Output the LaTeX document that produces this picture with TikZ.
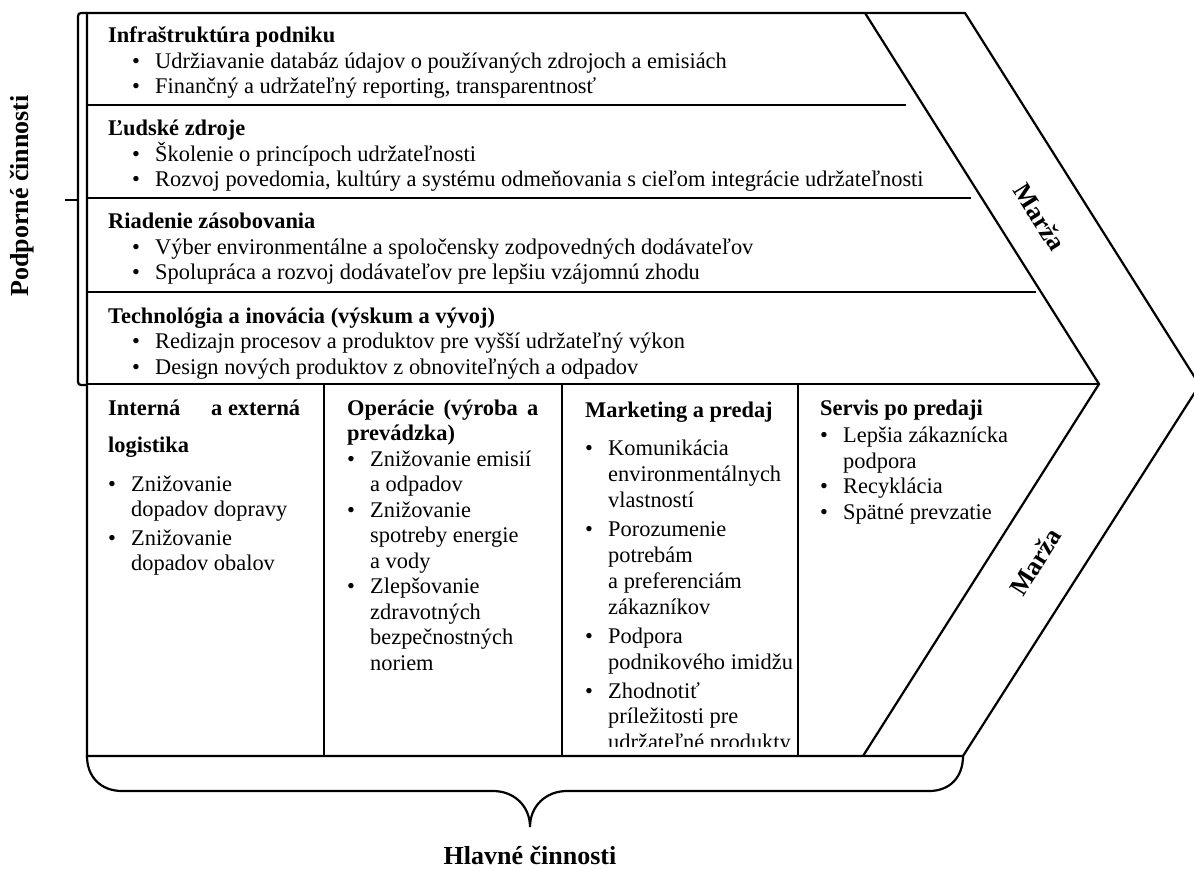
\documentclass[tikz,border=0pt]{standalone}
\usepackage{fontspec}
\setmainfont{Liberation Serif}
\usepackage{enumitem}
\setlist[itemize]{label=\textbullet,leftmargin=23pt,labelwidth=9pt,labelsep=14pt,align=left,topsep=0pt,partopsep=0pt,itemsep=0pt,parsep=0pt}

\tikzset{
  frameline/.style={line width=2.2pt, line join=miter},
  txt/.style={anchor=base west, inner sep=0pt, align=flush left, font=\fontsize{22.4}{25.5}\selectfont},
  supp/.style={txt, text width=950pt},
  prim/.style={txt, text width=192pt},
  big/.style={inner sep=0pt, font=\bfseries\fontsize{26}{28}\selectfont}
}

\begin{document}
\begin{tikzpicture}[x=1pt,y=-1pt]
  \useasboundingbox (0,0) rectangle (1194,869);

  % chevron outline
  \draw[frameline] (87,13) -- (965,13) -- (1199.6,385) -- (963,756) -- (87,756) -- cycle;
  \draw[frameline] (865,13) -- (1099,384) -- (863,756);
  % support rows
  \draw[frameline] (87,105) -- (906,105);
  \draw[frameline] (87,198) -- (971,198);
  \draw[frameline] (87,292) -- (1036,292);
  \draw[frameline] (87,384) -- (1099,384);
  % primary columns
  \foreach \x in {324,562,798}
    \draw[frameline] (\x,384) -- (\x,756);

  % braces
  \draw[frameline, rounded corners=3pt] (87,13) -- (78,13) -- (78,385) -- (87,385);
  \draw[frameline] (78,200) -- (65,200);
  \draw[frameline] (87,756) .. controls (87,777) and (101,791) .. (122,791) -- (493,791)
    .. controls (514,791) and (530,806) .. (530,827)
    .. controls (530,806) and (546,791) .. (567,791) -- (929,791)
    .. controls (950,791) and (963,777) .. (963,756);

  % support activities
  \node[supp] (infra) at (108,43) {\textbf{Infraštruktúra podniku}
    \begin{itemize}[leftmargin=47pt]
      \item Udržiavanie databáz údajov o používaných zdrojoch a emisiách
      \item Finančný a udržateľný reporting, transparentnosť
    \end{itemize}};
  \node[supp] (hr) at (108,136) {\textbf{Ľudské zdroje}
    \begin{itemize}[leftmargin=47pt]
      \item Školenie o princípoch udržateľnosti
      \item Rozvoj povedomia, kultúry a systému odmeňovania s cieľom integrácie udržateľnosti
    \end{itemize}};
  \node[supp] (supply) at (108,229) {\textbf{Riadenie zásobovania}
    \begin{itemize}[leftmargin=47pt]
      \item Výber environmentálne a spoločensky zodpovedných dodávateľov
      \item Spolupráca a rozvoj dodávateľov pre lepšiu vzájomnú zhodu
    \end{itemize}};
  \node[supp] (tech) at (108,323) {\textbf{Technológia a inovácia (výskum a vývoj)}
    \begin{itemize}[leftmargin=47pt]
      \item Redizajn procesov a produktov pre vyšší udržateľný výkon
      \item Design nových produktov z obnoviteľných a odpadov
    \end{itemize}};

  % primary activities
  \node[prim] (logist) at (108,415) {\textbf{Interná\hfill a externá}\\[12pt]\textbf{logistika}
    \begin{itemize}[topsep=13pt,itemsep=3pt]
      \item Znižovanie\newline dopadov dopravy
      \item Znižovanie\newline dopadov obalov
    \end{itemize}};
  \node[prim, text width=191pt] (oper) at (347,415) {\textbf{Operácie\hfill(výroba\hfill a}\\\textbf{prevádzka)}
    \begin{itemize}
      \item Znižovanie emisií\newline a odpadov
      \item Znižovanie\newline spotreby energie\newline a vody
      \item Zlepšovanie\newline zdravotných\newline bezpečnostných\newline noriem
    \end{itemize}};
  \begin{scope}
    \clip (562,384) rectangle (798,746);
    \node[prim, text width=230pt, font=\fontsize{22.4}{25.9}\selectfont] (market) at (585,417) {\textbf{Marketing a predaj}
      \begin{itemize}[topsep=13pt,itemsep=3pt]
        \item Komunikácia\newline environmentálnych\newline vlastností
        \item Porozumenie\newline potrebám\newline a preferenciám\newline zákazníkov
        \item Podpora\newline podnikového imidžu
        \item Zhodnotiť\newline príležitosti pre\newline udržateľné produkty
      \end{itemize}};
  \end{scope}
  \node[prim, text width=250pt] (service) at (820,415) {\textbf{Servis po predaji}
    \begin{itemize}[topsep=2pt]
      \item Lepšia zákaznícka\newline podpora
      \item Recyklácia
      \item Spätné prevzatie
    \end{itemize}};

  % labels
  \node[big, rotate=-57.8] (margin1) at (1040,217) {Marža};
  \node[big, rotate=57.8] (margin2) at (1035,562) {Marža};
  \node[big, rotate=90] (supplab) at (22,196) {Podporné činnosti};
  \node[big] (primlab) at (530,855) {Hlavné činnosti};
\end{tikzpicture}
\end{document}
